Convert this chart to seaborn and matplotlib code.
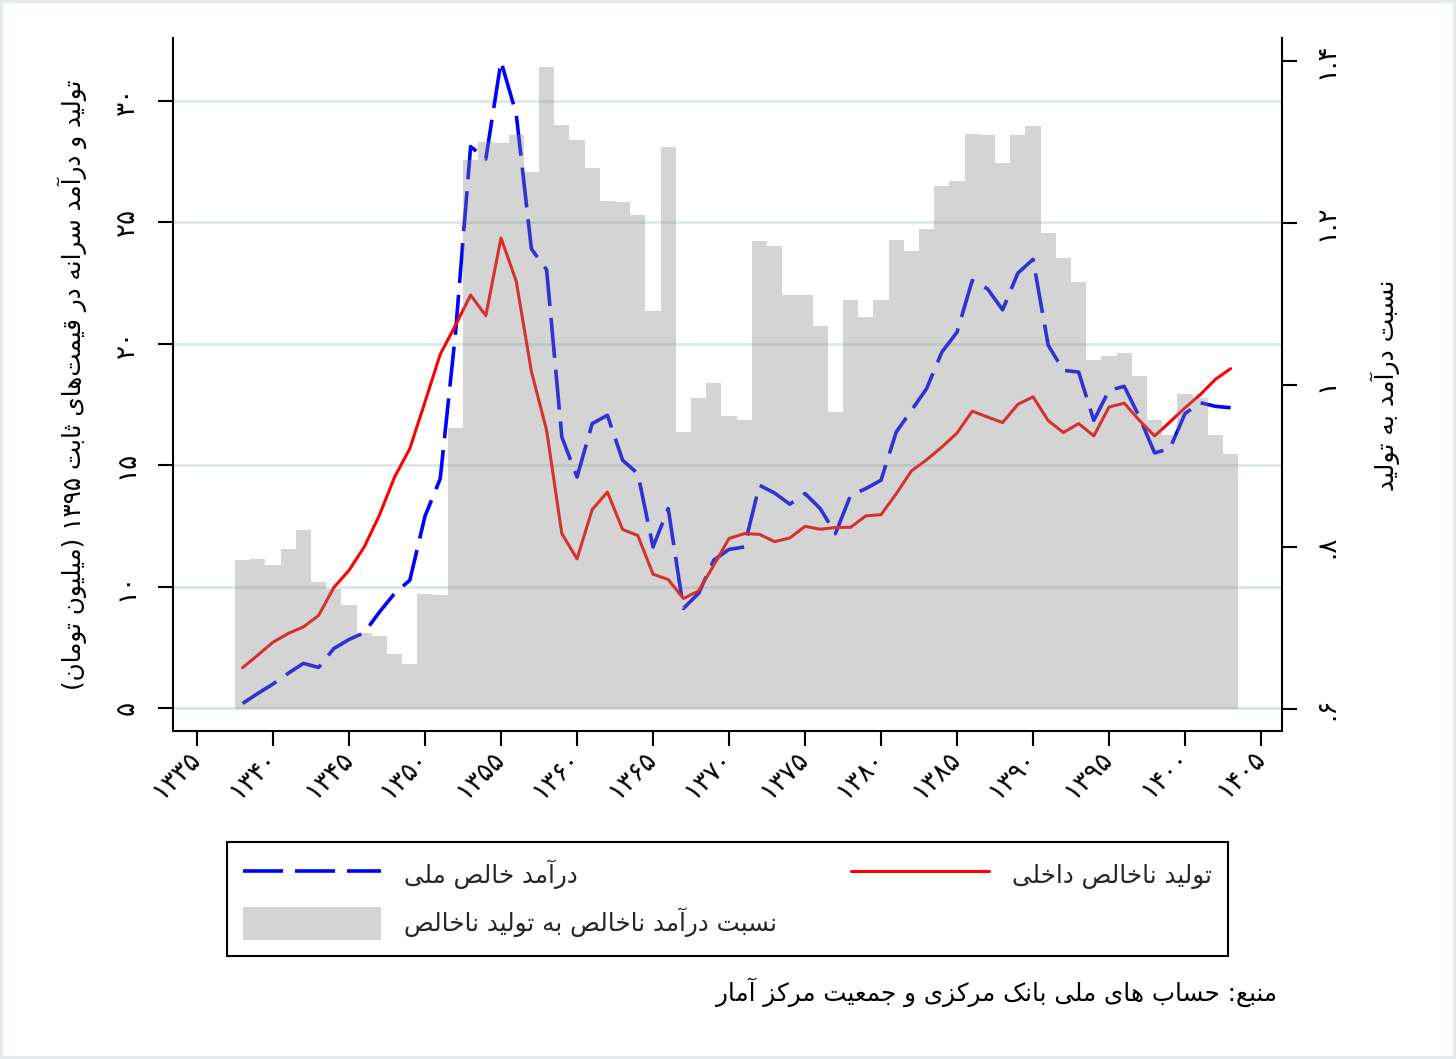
import re
import numpy as np
import pandas as pd
import matplotlib
matplotlib.use("Agg")
import matplotlib.pyplot as plt
import seaborn as sns
from matplotlib.lines import Line2D
from matplotlib.patches import Patch
from matplotlib import font_manager
from matplotlib.ft2font import FT2Font

# ---------------- data ----------------
years = list(range(1338, 1404))

gdp = [6.66, 7.18, 7.71, 8.07, 8.34, 8.81, 9.96, 10.67, 11.63, 12.94,
       14.51, 15.68, 17.60, 19.56, 20.75, 22.00, 21.15, 24.35, 22.57, 18.85,
       16.43, 12.18, 11.14, 13.17, 13.89, 12.35, 12.10, 10.51, 10.29, 9.51,
       9.82, 10.88, 11.98, 12.18, 12.15, 11.85, 12.00, 12.48, 12.36, 12.43,
       12.44, 12.91, 12.96, 13.82, 14.76, 15.22, 15.74, 16.32, 17.22, 16.98,
       16.75, 17.50, 17.81, 16.83, 16.34, 16.71, 16.20, 17.39, 17.55, 16.84,
       16.20, 16.77, 17.36, 17.90, 18.53, 18.97]

nni = [5.19, 5.60, 5.99, 6.43, 6.84, 6.67, 7.45, 7.82, 8.10, 8.95,
       9.72, 10.26, 12.90, 14.44, 20.40, 28.11, 27.60, 31.62, 29.45, 23.90,
       23.04, 16.16, 14.51, 16.71, 17.05, 15.20, 14.65, 11.63, 13.21, 9.10,
       9.72, 11.09, 11.53, 11.63, 14.17, 13.85, 13.39, 13.83, 13.21, 12.18,
       13.76, 14.03, 14.38, 16.36, 17.25, 18.15, 19.65, 20.47, 22.60, 22.26,
       21.39, 22.90, 23.47, 19.93, 18.90, 18.83, 16.84, 18.08, 18.24, 16.98,
       15.50, 15.68, 17.12, 17.57, 17.42, 17.36]

ratio = [0.783, 0.785, 0.777, 0.797, 0.821, 0.756, 0.748, 0.728, 0.693, 0.690,
         0.667, 0.655, 0.742, 0.741, 0.947, 1.278, 1.300, 1.298, 1.308, 1.262,
         1.392, 1.321, 1.302, 1.267, 1.227, 1.226, 1.210, 1.091, 1.293, 0.942,
         0.983, 1.002, 0.961, 0.956, 1.177, 1.171, 1.111, 1.111, 1.072, 0.966,
         1.105, 1.083, 1.105, 1.179, 1.165, 1.192, 1.245, 1.251, 1.310, 1.308,
         1.274, 1.308, 1.319, 1.187, 1.156, 1.127, 1.031, 1.035, 1.039, 1.011,
         0.956, 0.938, 0.988, 0.983, 0.938, 0.914]

BAR_BASE = 0.6

x_ticks = list(range(1335, 1406, 5))
left_ticks = [5, 10, 15, 20, 25, 30]
right_ticks = [0.6, 0.8, 1.0, 1.2, 1.4]
right_tick_labels = [".۶", ".۸", "۱", "۱.۲", "۱.۴"]

ylabel_left = "تولید و درآمد سرانه در قیمت\u200cهای ثابت ۱۳۹۵ (میلیون تومان)"
ylabel_right = "نسبت درآمد به تولید"
lab_nni = "درآمد خالص ملی"
lab_gdp = "تولید ناخالص داخلی"
lab_ratio = "نسبت درآمد ناخالص به تولید ناخالص"
source_note = "منبع: حساب های ملی بانک مرکزی و جمعیت مرکز آمار"

# ---------------- Persian shaping helpers ----------------
FONT = "DejaVu Sans"
_cmap = FT2Font(font_manager.findfont(FONT)).get_charmap()


def _has(c):
    return ord(c) in _cmap


FORMS = {
    "\u0622": ("\uFE81", "\uFE82", None, None),
    "\u0627": ("\uFE8D", "\uFE8E", None, None),
    "\u0628": ("\uFE8F", "\uFE90", "\uFE91", "\uFE92"),
    "\u067E": ("\uFB56", "\uFB57", "\uFB58", "\uFB59"),
    "\u062A": ("\uFE95", "\uFE96", "\uFE97", "\uFE98"),
    "\u062B": ("\uFE99", "\uFE9A", "\uFE9B", "\uFE9C"),
    "\u062C": ("\uFE9D", "\uFE9E", "\uFE9F", "\uFEA0"),
    "\u062D": ("\uFEA1", "\uFEA2", "\uFEA3", "\uFEA4"),
    "\u062E": ("\uFEA5", "\uFEA6", "\uFEA7", "\uFEA8"),
    "\u062F": ("\uFEA9", "\uFEAA", None, None),
    "\u0630": ("\uFEAB", "\uFEAC", None, None),
    "\u0631": ("\uFEAD", "\uFEAE", None, None),
    "\u0632": ("\uFEAF", "\uFEB0", None, None),
    "\u0633": ("\uFEB1", "\uFEB2", "\uFEB3", "\uFEB4"),
    "\u0634": ("\uFEB5", "\uFEB6", "\uFEB7", "\uFEB8"),
    "\u0635": ("\uFEB9", "\uFEBA", "\uFEBB", "\uFEBC"),
    "\u0639": ("\uFEC9", "\uFECA", "\uFECB", "\uFECC"),
    "\u0641": ("\uFED1", "\uFED2", "\uFED3", "\uFED4"),
    "\u0642": ("\uFED5", "\uFED6", "\uFED7", "\uFED8"),
    "\u06A9": ("\uFB8E", "\uFB8F", "\uFB90", "\uFB91"),
    "\u0644": ("\uFEDD", "\uFEDE", "\uFEDF", "\uFEE0"),
    "\u0645": ("\uFEE1", "\uFEE2", "\uFEE3", "\uFEE4"),
    "\u0646": ("\uFEE5", "\uFEE6", "\uFEE7", "\uFEE8"),
    "\u0647": ("\uFEE9", "\uFEEA", "\uFEEB", "\uFEEC"),
    "\u0648": ("\uFEED", "\uFEEE", None, None),
    "\u06CC": ("\uFBFC", "\uFBFD", "\uFBFE", "\uFBFF"),
}
if not all(_has(c) for c in FORMS["\u06A9"]):
    FORMS["\u06A9"] = ("\uFED9", "\uFEDA", "\uFEDB", "\uFEDC")
if not all(_has(c) for c in FORMS["\u06CC"]):
    FORMS["\u06CC"] = ("\uFEEF", "\uFEF0", "\uFEF3", "\uFEF4")
LAM_ALEF = {"\u0627": ("\uFEFB", "\uFEFC"), "\u0622": ("\uFEF5", "\uFEF6")}

FA_DIGITS = "۰۱۲۳۴۵۶۷۸۹"
if not all(_has(c) for c in FA_DIGITS):
    FA_DIGITS = "٠١٢٣٤٥٦٧٨٩"


def fa(s):
    return str(s).translate(str.maketrans("0123456789", FA_DIGITS))


def _dual(c):
    return c in FORMS and FORMS[c][2] is not None


def shape(s):
    ch = list(s)
    out = []
    i = 0
    n = len(ch)
    while i < n:
        c = ch[i]
        if c not in FORMS:
            if c != "\u200c":
                out.append(c)
            i += 1
            continue
        prev = ch[i - 1] if i > 0 else None
        nxt = ch[i + 1] if i + 1 < n else None
        cp = prev is not None and _dual(prev)
        if c == "\u0644" and nxt in LAM_ALEF:
            out.append(LAM_ALEF[nxt][1 if cp else 0])
            i += 2
            continue
        cn = _dual(c) and nxt is not None and nxt in FORMS
        iso, fin, ini, med = FORMS[c]
        if cp and cn:
            out.append(med)
        elif cp:
            out.append(fin)
        elif cn:
            out.append(ini)
        else:
            out.append(iso)
        i += 1
    return "".join(out)


def vis(s):
    s = shape(fa(s))
    tokens = re.findall(r"[0-9\u06F0-\u06F9\u0660-\u0669]+(?:[.,][0-9\u06F0-\u06F9\u0660-\u0669]+)*|.", s, re.S)
    mirror = {"(": ")", ")": "(", "[": "]", "]": "["}
    out = []
    for t in reversed(tokens):
        if len(t) > 1 or t.isdigit():
            out.append(t)
        else:
            out.append(mirror.get(t, t))
    return "".join(out)


# ---------------- figure ----------------
sns.set_theme(style="white")
plt.rcParams["font.family"] = [FONT]
plt.rcParams["axes.unicode_minus"] = False

W, H = 1456, 1059
fig = plt.figure(figsize=(W / 100, H / 100), dpi=100)
fig.patch.set_facecolor("white")
fig.patch.set_edgecolor("#e3ebeb")
fig.patch.set_linewidth(3)

ax = fig.add_axes([173 / W, 1 - 731 / H, (1282 - 173) / W, (731 - 38) / H])
ax2 = ax.twinx()

renderer = fig.canvas.get_renderer()


def text_width(s, size):
    t = fig.text(0, 0, s, fontsize=size)
    w = t.get_window_extent(renderer).width
    t.remove()
    return w


def fit_size(s, target_px, base=20.0):
    return base * target_px / text_width(s, base)


tick_fs = fit_size(fa("1335"), 56)
lab_fs = fit_size(vis(ylabel_left), 610)
rlab_fs = fit_size(vis(ylabel_right), 212)
leg_fs = fit_size(vis(lab_ratio), 372)
src_fs = fit_size(vis(source_note), 562)

df = pd.DataFrame({"year": years, "gdp": gdp, "nni": nni, "ratio": ratio})
df["bar_height"] = df["ratio"] - BAR_BASE

BLUE = "#0000ff"
RED = "#ff0000"
BAR_COLOR = "#898989"
BAR_ALPHA = 0.365
BLUE_LW = 2.6
RED_LW = 2.2
DASH = (0, (11.1, 3.3))

sns.lineplot(data=df, x="year", y="nni", ax=ax, color=BLUE, lw=BLUE_LW,
             linestyle=DASH, errorbar=None, legend=False)
sns.lineplot(data=df, x="year", y="gdp", ax=ax, color=RED, lw=RED_LW,
             errorbar=None, legend=False)
sns.barplot(data=df, x="year", y="bar_height", ax=ax2, native_scale=True,
            width=1.0, color=BAR_COLOR, saturation=1, alpha=BAR_ALPHA,
            linewidth=0, errorbar=None, bottom=BAR_BASE)

ax.set_xlim(1333.42, 1406.38)
ax.set_ylim(4.055, 32.58)
ax2.set_ylim(0.5725, 1.428)

ax.set_xlabel("")
ax.set_ylabel("")
ax2.set_xlabel("")
ax2.set_ylabel("")

ax.set_xticks(x_ticks)
ax.set_xticklabels([fa(x) for x in x_ticks], rotation=45, ha="right",
                   va="center", rotation_mode="anchor", fontsize=tick_fs)
ax.set_yticks(left_ticks)
ax.set_yticklabels([fa(v) for v in left_ticks], rotation=90, va="center",
                   fontsize=tick_fs)
ax2.set_yticks(right_ticks)
ax2.set_yticklabels(right_tick_labels, rotation=90, va="center",
                    fontsize=tick_fs)

ax.tick_params(axis="x", bottom=True, length=11, width=1.5, pad=6,
               direction="out", color="black", labelcolor="black")
ax.tick_params(axis="y", left=True, length=11, width=1.5, pad=13,
               direction="out", color="black", labelcolor="black")
ax2.tick_params(axis="y", right=True, length=11, width=1.5, pad=12,
                direction="out", color="black", labelcolor="black")

for s in ["top", "right"]:
    ax.spines[s].set_visible(False)
for s in ["left", "bottom"]:
    ax.spines[s].set_color("black")
    ax.spines[s].set_linewidth(1.5)
for s in ["top", "left", "bottom"]:
    ax2.spines[s].set_visible(False)
ax2.spines["right"].set_color("black")
ax2.spines["right"].set_linewidth(1.5)

ax.set_axisbelow(True)
ax.yaxis.grid(True, color="#dde8e8", lw=2.0)
ax.xaxis.grid(False)
ax2.grid(False)
ax.set_facecolor("white")

# axis titles
fig.text(72 / W, 1 - 385 / H, vis(ylabel_left), rotation=90, ha="center",
         va="center", fontsize=lab_fs, color="black")
fig.text(1385 / W, 1 - 385 / H, vis(ylabel_right), rotation=90, ha="center",
         va="center", fontsize=rlab_fs, color="black")

# legend
fs_px = leg_fs * 100 / 72
handles = [
    Line2D([], [], color=BLUE, lw=BLUE_LW, linestyle=DASH),
    Patch(facecolor=BAR_COLOR, alpha=BAR_ALPHA, edgecolor="none"),
    Line2D([], [], color=RED, lw=RED_LW),
]
labels = [vis(lab_nni), vis(lab_ratio), vis(lab_gdp)]
leg = fig.legend(handles, labels, ncol=2, loc="center",
                 bbox_to_anchor=(227 / W, 1 - 958 / H, 1001 / W, 118 / H),
                 bbox_transform=fig.transFigure, mode="expand",
                 frameon=True, fancybox=False, shadow=False, framealpha=1,
                 edgecolor="black", prop={"family": FONT, "size": leg_fs},
                 handlelength=138 / fs_px, handleheight=42 / fs_px,
                 handletextpad=23 / fs_px, labelspacing=15 / fs_px,
                 borderpad=16 / fs_px, borderaxespad=0)
leg.get_frame().set_linewidth(1.5)

# source note
fig.text(1277 / W, 1 - 992 / H, vis(source_note), ha="right", va="center",
         fontsize=src_fs, color="black")

fig.savefig("out.png", dpi=100)
